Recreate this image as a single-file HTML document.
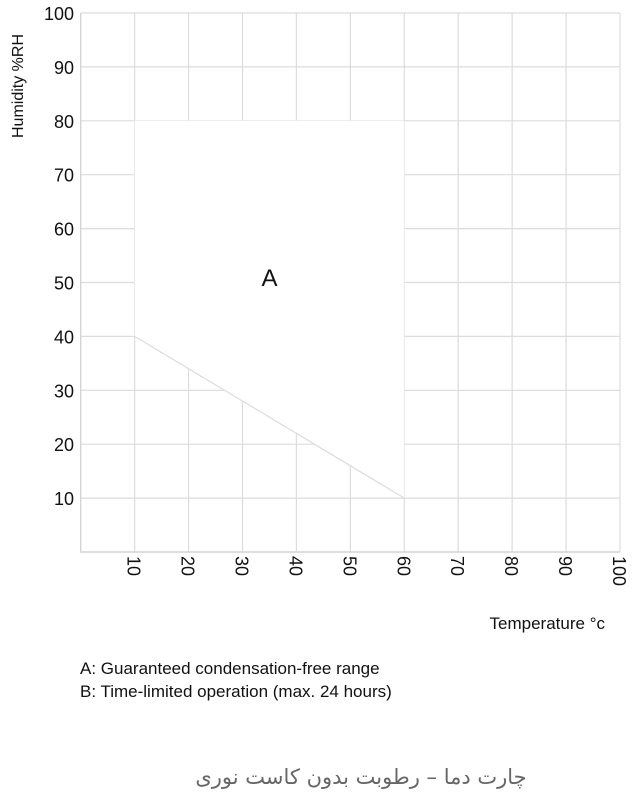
<!DOCTYPE html>
<html><head><meta charset="utf-8"><style>
html,body{margin:0;padding:0;background:#fff;width:632px;height:802px;overflow:hidden}
svg{display:block}
text{font-family:"Liberation Sans","DejaVu Sans",sans-serif;fill:#111}
</style></head><body>
<svg id="chart" width="632" height="802" viewBox="0 0 632 802" xmlns="http://www.w3.org/2000/svg">
<g id="grid"></g>
<g id="regions"></g>
<g id="yticks"></g>
<g id="xticks"></g>
<text transform="translate(23,86) rotate(-90)" text-anchor="middle" font-size="16">Humidity %RH</text>
<text x="605" y="629" text-anchor="end" font-size="17">Temperature °c</text>
<text x="80" y="674" font-size="17">A: Guaranteed condensation-free range</text>
<text x="80" y="697" font-size="17">B: Time-limited operation (max. 24 hours)</text>
<text x="361" y="784" text-anchor="middle" font-size="21" style="fill:#666;font-family:'DejaVu Sans',sans-serif" direction="rtl">چارت دما – رطوبت بدون کاست نوری</text>
</svg>
<script>
const xTicks=[10,20,30,40,50,60,70,80,90,100];
const yTicks=[10,20,30,40,50,60,70,80,90,100];
const regionATemp=[10,10,60,60];
const regionAHum=[40,80,80,10];
const labelA={t:35,h:51,text:"A"};
const NS="http://www.w3.org/2000/svg";
const x0=80.7,xs=5.393,y0=552,ys=5.39;
const X=v=>x0+v*xs, Y=v=>y0-v*ys;
function mk(tag,attrs,parent){const e=document.createElementNS(NS,tag);for(const k in attrs)e.setAttribute(k,attrs[k]);parent.appendChild(e);return e;}
const grid=document.getElementById('grid');
xTicks.forEach(v=>{const l=mk('line',{x1:X(v),x2:X(v),y1:Y(100),y2:Y(0),stroke:'#dcdcdc','stroke-width':1.2},grid);

});
yTicks.forEach(v=>{const l=mk('line',{x1:X(0),x2:X(100),y1:Y(v),y2:Y(v),stroke:'#dcdcdc','stroke-width':1.2},grid);

});
const ax=mk('path',{d:`M${X(0)} ${Y(100)} V${Y(0)} H${X(100)}`,fill:'none',stroke:'#d4d4d4','stroke-width':1.4},grid);


const reg=document.getElementById('regions');
const pts=regionATemp.map((t,i)=>X(t)+','+Y(regionAHum[i])).join(' ');
const poly=mk('polygon',{points:pts,fill:'#fff',stroke:'none'},reg);


const diag=mk('line',{x1:X(regionATemp[0]),y1:Y(regionAHum[0]),x2:X(regionATemp[3]),y2:Y(regionAHum[3]),stroke:'#dcdcdc','stroke-width':1.2},reg);


const la=mk('text',{x:X(labelA.t),y:Y(labelA.h)+9,'text-anchor':'middle','font-size':24},reg);
la.textContent=labelA.text;


const yt=document.getElementById('yticks');
yTicks.forEach(v=>{const t=mk('text',{x:74,y:Y(v)+7,'text-anchor':'end','font-size':18},yt);t.textContent=v;

});
const xt=document.getElementById('xticks');
xTicks.forEach(v=>{const t=mk('text',{transform:`translate(${X(v)-7},556) rotate(90)`,'font-size':18},xt);t.textContent=v;

});
</script>
</body></html>
